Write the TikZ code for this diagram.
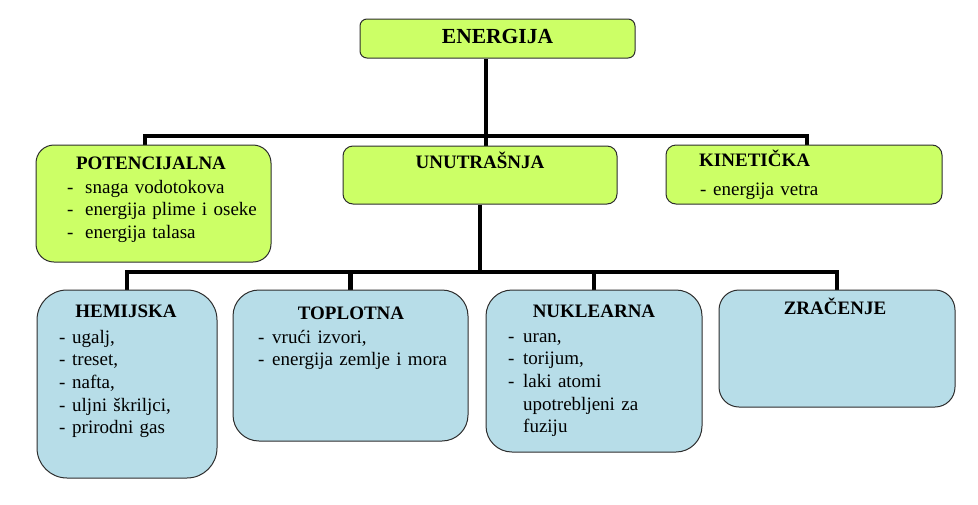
\documentclass[tikz,border=0pt]{standalone}
\usepackage{fontspec}
\setmainfont{Liberation Serif}
\usepackage{tikz}
\usetikzlibrary{positioning,backgrounds}
\usepackage{xcolor}
\definecolor{LimeFill}{RGB}{204, 255, 102}
\definecolor{AquaFill}{RGB}{183, 221, 232}
\definecolor{EdgeGray}{RGB}{45, 45, 45}
\newcommand{\itm}[1][14pt]{\makebox[#1][l]{-}}

\begin{document}
\begin{tikzpicture}[x=1pt,y=-1pt,
    greenbox/.style={draw=EdgeGray,fill=LimeFill,line width=1pt,rounded corners=10pt,inner sep=0pt},
    bluebox/.style={draw=EdgeGray,fill=AquaFill,line width=1pt,rounded corners=26pt,inner sep=0pt},
    boxtitle/.style={font=\fontsize{19}{22.7}\selectfont\bfseries,inner sep=0pt},
    boxitems/.style={font=\fontsize{19}{22.7}\selectfont,inner sep=0pt,text width=#1,align=left},
    tree/.style={line width=4.5pt,black}]
    \useasboundingbox (0,0) rectangle (978,504);
    % boxes
    \node[greenbox,rounded corners=7pt,minimum width=275pt,minimum height=39pt] (energija) at (497.5,38.5) {};
    \node[greenbox,rounded corners=18pt,minimum width=235pt,minimum height=117pt] (pot) at (153.5,203.5) {};
    \node[greenbox,minimum width=274pt,minimum height=58pt] (unutrasnja) at (480,175) {};
    \node[greenbox,minimum width=276pt,minimum height=59pt] (kineticka) at (804,174.5) {};
    \node[bluebox,rounded corners=30pt,minimum width=180pt,minimum height=188pt] (hemijska) at (127,384) {};
    \node[bluebox,minimum width=235pt,minimum height=151pt] (toplotna) at (350.5,365.5) {};
    \node[bluebox,minimum width=216pt,minimum height=162pt] (nuklearna) at (594,371) {};
    \node[bluebox,rounded corners=20pt,minimum width=236pt,minimum height=117pt] (zracenje) at (837,348.5) {};
    % texts
    \node[boxtitle,font=\fontsize{21.5}{24}\selectfont\bfseries,anchor=base] (tEnergija) at (497.5,43) {ENERGIJA};
    \node[boxtitle,anchor=base] (tPot) at (151,169) {POTENCIJALNA};
    \node[boxitems=200pt,anchor=base west] (iPot) at (67,193) {\itm[18pt]snaga vodotokova\\\itm[18pt]energija plime i oseke\\\itm[18pt]energija talasa};
    \node[boxtitle,anchor=base] (tUnutrasnja) at (480,168) {UNUTRAŠNJA};
    \node[boxtitle,anchor=base west] (tKineticka) at (699,166) {KINETIČKA};
    \node[boxitems=220pt,anchor=base west] (iKineticka) at (700,195) {\itm[13pt]energija vetra};
    \node[boxtitle,anchor=base] (tHemijska) at (126,317) {HEMIJSKA};
    \node[boxitems=150pt,anchor=base west] (iHemijska) at (59,343) {\itm[13pt]ugalj,\\\itm[13pt]treset,\\\itm[13pt]nafta,\\\itm[13pt]uljni škriljci,\\\itm[13pt]prirodni gas};
    \node[boxtitle,anchor=base] (tToplotna) at (351,319) {TOPLOTNA};
    \node[boxitems=205pt,anchor=base west] (iToplotna) at (258,343) {\itm vrući izvori,\\\itm energija zemlje i mora};
    \node[boxtitle,anchor=base] (tNuklearna) at (594,317) {NUKLEARNA};
    \node[boxitems=185pt,anchor=base west] (iNuklearna) at (508,342) {\itm[15pt]uran,\\\itm[15pt]torijum,\\\itm[15pt]laki atomi\\\hspace*{15pt}upotrebljeni za\\\hspace*{15pt}fuziju};
    \node[boxtitle,anchor=base] (tZracenje) at (835,314) {ZRAČENJE};
    % connectors
    \coordinate (busA) at (486,136);
    \coordinate (busB) at (480,272);
    \begin{scope}[on background layer]
      \draw[tree] (energija.south -| busA) -- (unutrasnja.north -| busA);
      \draw[tree] ([xshift=-8.5pt]pot.north) |- (busA) -| ([xshift=3pt]kineticka.north);
      \draw[tree] (unutrasnja.south) -- (busB);
      \draw[tree] (hemijska.north) |- (busB) -| (zracenje.north);
      \draw[tree] (toplotna.north) -- (toplotna.north |- busB);
      \draw[tree] (nuklearna.north) -- (nuklearna.north |- busB);
    \end{scope}
\end{tikzpicture}
\end{document}
